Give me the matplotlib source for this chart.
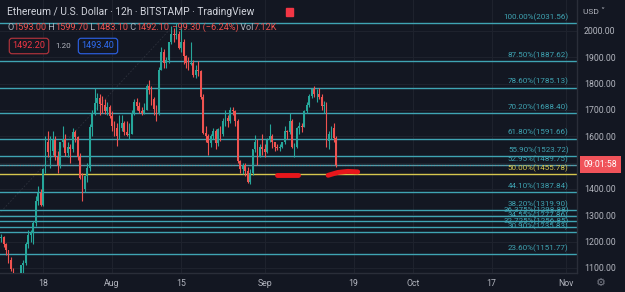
import numpy as np
import pandas as pd
import matplotlib
matplotlib.use('Agg')
import matplotlib.pyplot as plt
import matplotlib.dates as mdates

# --- Datos: velas de 12h ETH/USD (Bitstamp), desde el 9 de julio de 2022 ---
aperturas = [1232, 1213, 1216, 1190, 1167, 1130, 1097, 1075, 1038, 1050, 1112, 1120, 1191, 1225, 1234, 1270, 1355, 1385, 1339, 1475,
             1580, 1540, 1543, 1585, 1522, 1490, 1577, 1590, 1537, 1560, 1552, 1615, 1598, 1520, 1442, 1400, 1450, 1480, 1636, 1690,
             1728, 1745, 1724, 1720, 1696, 1710, 1678, 1640, 1633, 1600, 1631, 1650, 1618, 1605, 1608, 1690, 1732, 1715, 1697, 1690,
             1700, 1790, 1777, 1740, 1702, 1690, 1852, 1920, 1880, 1890, 1958, 1990, 1984, 1990, 1936, 1960, 1904, 1880, 1876, 1880,
             1833, 1850, 1849, 1750, 1612, 1600, 1575, 1600, 1620, 1575, 1626, 1610, 1660, 1670, 1658, 1700, 1696, 1660, 1508, 1475,
             1490, 1470, 1425, 1460, 1553, 1580, 1523, 1560, 1553, 1540, 1587, 1600, 1577, 1560, 1555, 1560, 1577, 1620, 1617, 1660,
             1560, 1560, 1630, 1640, 1636, 1695, 1718, 1755, 1781, 1760, 1762, 1750, 1716, 1720, 1581, 1610, 1633, 1593]
maximos = [1237, 1228, 1220, 1195, 1168, 1140, 1100, 1080, 1060, 1112, 1130, 1200, 1245, 1245, 1280, 1375, 1410, 1400, 1480, 1600,
           1620, 1600, 1620, 1600, 1545, 1580, 1640, 1610, 1580, 1570, 1630, 1625, 1600, 1535, 1462, 1455, 1500, 1645, 1700, 1785,
           1765, 1760, 1755, 1740, 1732, 1720, 1698, 1660, 1650, 1680, 1680, 1660, 1660, 1650, 1700, 1740, 1745, 1730, 1710, 1725,
           1800, 1815, 1790, 1750, 1720, 1865, 1940, 1930, 1900, 1960, 2020, 2010, 2031.56, 2000, 2010, 1970, 1910, 1900, 1960, 1890,
           1870, 1885, 1852, 1760, 1640, 1610, 1610, 1630, 1627, 1630, 1640, 1670, 1700, 1680, 1710, 1710, 1700, 1665, 1510, 1500,
           1500, 1485, 1475, 1550, 1605, 1590, 1570, 1610, 1570, 1595, 1645, 1610, 1580, 1570, 1570, 1580, 1640, 1625, 1690, 1665,
           1575, 1635, 1655, 1650, 1700, 1730, 1760, 1785, 1790, 1780, 1785, 1760, 1735, 1730, 1620, 1640, 1650, 1599.7]
minimos = [1205, 1198, 1180, 1150, 1120, 1090, 1060, 1035, 1006, 1040, 1075, 1110, 1176, 1200, 1190, 1260, 1340, 1336, 1337, 1460,
           1520, 1480, 1530, 1510, 1460, 1480, 1560, 1526, 1520, 1500, 1540, 1580, 1510, 1437, 1356, 1390, 1425, 1470, 1603, 1680,
           1700, 1680, 1690, 1685, 1680, 1670, 1620, 1600, 1565, 1590, 1620, 1605, 1600, 1590, 1608, 1680, 1700, 1690, 1680, 1685,
           1700, 1760, 1720, 1680, 1660, 1680, 1852, 1860, 1860, 1880, 1950, 1960, 1970, 1930, 1920, 1875, 1860, 1850, 1870, 1825,
           1820, 1830, 1740, 1610, 1580, 1530, 1560, 1590, 1550, 1565, 1582, 1600, 1640, 1635, 1650, 1680, 1640, 1500, 1460, 1456,
           1450, 1422, 1420, 1455, 1540, 1490, 1520, 1530, 1520, 1535, 1580, 1555, 1545, 1548, 1545, 1555, 1570, 1590, 1610, 1555,
           1520, 1555, 1610, 1615, 1635, 1690, 1710, 1745, 1750, 1730, 1740, 1700, 1690, 1560, 1550, 1590, 1580, 1483.1]
cierres = [1213, 1216, 1190, 1167, 1130, 1097, 1075, 1038, 1050, 1112, 1120, 1191, 1225, 1234, 1270, 1355, 1385, 1339, 1475, 1580,
           1540, 1543, 1585, 1522, 1490, 1577, 1590, 1537, 1560, 1552, 1615, 1598, 1520, 1442, 1400, 1450, 1480, 1636, 1690, 1728,
           1745, 1724, 1720, 1696, 1710, 1678, 1640, 1633, 1600, 1631, 1650, 1618, 1605, 1608, 1690, 1732, 1715, 1697, 1690, 1700,
           1790, 1777, 1740, 1702, 1690, 1852, 1920, 1880, 1890, 1958, 1990, 1984, 1990, 1936, 1960, 1904, 1880, 1876, 1880, 1833,
           1850, 1849, 1750, 1612, 1600, 1575, 1600, 1620, 1575, 1626, 1610, 1660, 1670, 1658, 1700, 1696, 1660, 1508, 1475, 1490,
           1470, 1425, 1460, 1553, 1580, 1523, 1560, 1553, 1540, 1587, 1600, 1577, 1560, 1555, 1560, 1577, 1620, 1617, 1660, 1560,
           1560, 1630, 1640, 1636, 1695, 1718, 1755, 1781, 1760, 1762, 1750, 1716, 1720, 1581, 1610, 1633, 1593, 1492.1]
inicio = '2022-07-09'

# Retroceso de Fibonacci
fib_pct = ['100.00', '87.50', '78.60', '70.20', '61.80', '55.90', '52.95', '50.00',
           '44.10', '38.20', '36.375', '34.55', '32.725', '30.90', '23.60']
fib_precio = [2031.56, 1887.62, 1785.13, 1688.40, 1591.66, 1523.72, 1489.75, 1455.78,
              1387.84, 1319.90, 1298.88, 1277.86, 1256.85, 1235.83, 1151.77]
tendencia_fechas = ['2022-06-18', '2022-08-14']
tendencia_precios = [880.0, 2031.56]

# Eje de tiempo y precios
fechas_ticks = ['2022-07-18', '2022-08-01', '2022-08-15', '2022-09-01', '2022-09-19', '2022-10-01', '2022-10-17', '2022-11-01']
etiquetas_ticks = ['18', 'Aug', '15', 'Sep', '19', 'Oct', '17', 'Nov']
precios_ticks = [1100, 1200, 1300, 1400, 1600, 1700, 1800, 1900, 2000]

# Trazos rojos a mano
trazo1_fechas = ['2022-09-03 10:00', '2022-09-07 18:00']
trazo1_precios = [1452, 1452]
trazo2_fechas = ['2022-09-13 20:00', '2022-09-15 20:00', '2022-09-17 20:00', '2022-09-19 20:00']
trazo2_precios = [1452, 1463, 1467, 1465]

precio_actual = 1492.1

FONDO = '#131722'
VERDE = '#26a69a'
ROJO = '#ef5350'
TEAL = '#3fa4b3'
AMARILLO = '#d6c64e'
GRIS = '#b2b5be'

plt.rcParams['font.family'] = ['Roboto', 'DejaVu Sans']

fig = plt.figure(figsize=(6.25, 2.92), dpi=100, facecolor=FONDO)
ax = fig.add_axes([0, 19 / 292, 577 / 625, 273 / 292], facecolor=FONDO)

tiempos = mdates.date2num(pd.date_range(inicio, periods=len(cierres), freq='12h'))
o = np.array(aperturas, float)
h = np.array(maximos, float)
l = np.array(minimos, float)
c = np.array(cierres, float)
colores = np.where(c >= o, VERDE, ROJO)

# Rejilla
for f in fechas_ticks:
    ax.axvline(mdates.date2num(pd.Timestamp(f)), color='#1e222d', lw=0.8, zorder=0)
for p in precios_ticks + [1500]:
    ax.axhline(p, color='#1e222d', lw=0.8, zorder=0)

# Velas
ax.vlines(tiempos, l, h, colors=colores, lw=0.8, zorder=3)
ax.bar(tiempos, np.maximum(np.abs(c - o), 1.5), bottom=np.minimum(o, c), width=0.36,
       color=colores, lw=0, zorder=3)

# Niveles de Fibonacci
for pct, precio in zip(fib_pct, fib_precio):
    col = AMARILLO if pct == '50.00' else TEAL
    ax.axhline(precio, color=col, lw=1.0, zorder=2)
    ax.annotate(f'{pct}%({precio:.2f})', xy=(1, precio), xycoords=('axes fraction', 'data'),
                xytext=(-6, 1.5), textcoords='offset points', ha='right', va='bottom',
                color=col, fontsize=5.8, zorder=4)

ax.plot(mdates.date2num(pd.to_datetime(tendencia_fechas)), tendencia_precios,
        color='#5d606b', lw=0.6, ls=(0, (2, 2)), alpha=0.35, zorder=1)

# Línea punteada de precio actual
ax.axhline(precio_actual, color='#7f8590', lw=0.8, ls=(0, (1, 1.5)), zorder=2)

# Trazos a mano
for fs, ps in [(trazo1_fechas, trazo1_precios), (trazo2_fechas, trazo2_precios)]:
    ax.plot(mdates.date2num(pd.to_datetime(fs)), ps, color='#e8161b', lw=3.5,
            solid_capstyle='round', zorder=5)

# Límites
izq = mdates.date2num(pd.Timestamp('2022-07-18')) - 43 / 4.93
ax.set_xlim(izq, izq + 577 / 4.93)
ax.set_ylim(1081, 2117.7)

# Ejes
ax.set_xticks(mdates.date2num(pd.to_datetime(fechas_ticks)))
ax.set_xticklabels(etiquetas_ticks)
ax.set_yticks(precios_ticks)
ax.set_yticklabels([f'{p:.2f}' for p in precios_ticks])
ax.yaxis.tick_right()
ax.tick_params(axis='both', length=0, colors=GRIS, labelsize=6.3)
ax.tick_params(axis='y', pad=5)
ax.tick_params(axis='x', pad=4)
for s in ['top', 'left']:
    ax.spines[s].set_visible(False)
for s in ['right', 'bottom']:
    ax.spines[s].set_color('#2a2e39')
    ax.spines[s].set_linewidth(1)

# Etiqueta de cuenta atrás
ax.annotate('09:01:58', xy=(1, precio_actual), xycoords=('axes fraction', 'data'),
            xytext=(17, 0), textcoords='offset points', ha='center', va='center',
            color='white', fontsize=6.3, annotation_clip=False,
            bbox=dict(boxstyle='square,pad=0.45', fc='#f0535a', ec='none'))
fig.text(583 / 625, 1 - 11 / 292, 'USD ˅', color=GRIS, fontsize=6, va='center')
fig.text(601 / 625, 1 - 283 / 292, '⚙', color='#787b86', fontsize=8, ha='center', va='center',
         family=['DejaVu Sans'])

# Cabecera
fig.text(7 / 625, 1 - 12 / 292, 'Ethereum / U.S. Dollar · 12h · BITSTAMP · TradingView',
         color='#d1d4dc', fontsize=7.4, va='center')
fig.patches.append(plt.Rectangle((286 / 625, 1 - 16 / 292), 7 / 625, 8 / 292,
                                 transform=fig.transFigure, color='#f23645'))

partes = [('O', GRIS), ('1593.00', ROJO), (' H', GRIS), ('1599.70', ROJO), (' L', GRIS), ('1483.10', ROJO),
          (' C', GRIS), ('1492.10', ROJO), (' −99.30 (−6.24%)', ROJO), (' Vol', GRIS), ('7.12K', ROJO)]
t = fig.text(7 / 625, 1 - 27 / 292, partes[0][0], color=partes[0][1], fontsize=6.6, va='center')
for txt, col in partes[1:]:
    t = ax.annotate(txt, xy=(1, 0.5), xycoords=t, ha='left', va='center', color=col,
                    fontsize=6.6, annotation_clip=False)

fig.text(29 / 625, 1 - 46 / 292, '1492.20', color='#f23645', fontsize=6.6, ha='center', va='center',
         bbox=dict(boxstyle='round,pad=0.35,rounding_size=0.3', fc=FONDO, ec='#a8323a', lw=0.9))
fig.text(63 / 625, 1 - 46 / 292, '1.20', color=GRIS, fontsize=5.8, ha='center', va='center')
fig.text(98 / 625, 1 - 46 / 292, '1493.40', color='#2f6cf0', fontsize=6.6, ha='center', va='center',
         bbox=dict(boxstyle='round,pad=0.35,rounding_size=0.3', fc=FONDO, ec='#2a5bd6', lw=0.9))

fig.savefig('out.png', dpi=100, facecolor=FONDO)
